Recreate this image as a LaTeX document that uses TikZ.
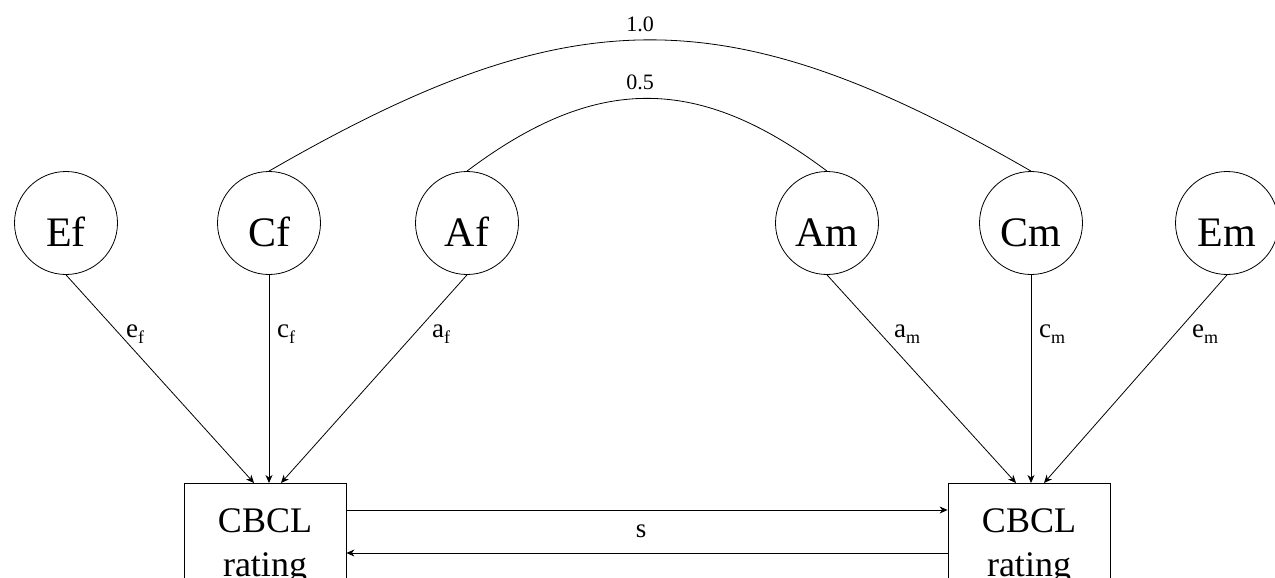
\documentclass[tikz,border=0pt]{standalone}
\usepackage{fontspec}
\setmainfont{Liberation Serif}
\usetikzlibrary{arrows.meta,calc}
\newcommand{\lsub}[1]{\raisebox{-6pt}{\fontsize{18}{18}\selectfont #1}}
\begin{document}
\begin{tikzpicture}[x=1pt,y=-1pt,
  lat/.style={circle, draw, line width=0.8pt, minimum size=103pt, inner sep=0pt,
    font=\fontsize{42}{42}\selectfont, text height=47pt, text depth=0pt},
  obs/.style={draw, line width=0.8pt, minimum width=162pt, minimum height=150pt,
    anchor=north, inner sep=0pt},
  pth/.style={line width=0.8pt, -{Stealth[length=8pt,width=7pt,inset=2.5pt]}},
  cov/.style={line width=0.8pt},
  lab/.style={inner sep=0pt, anchor=base west, font=\fontsize{27}{27}\selectfont},
  num/.style={inner sep=0pt, anchor=base, font=\fontsize{22}{22}\selectfont},
  boxtxt/.style={inner sep=0pt, anchor=base, font=\fontsize{36}{36}\selectfont}]
\useasboundingbox (0,0) rectangle (1275,578);
\clip (0,0) rectangle (1275,578);

% latent variables
\node[lat] (Ef) at (66,223) {Ef};
\node[lat] (Cf) at (269,223) {Cf};
\node[lat] (Af) at (467,223) {Af};
\node[lat] (Am) at (827,223) {Am};
\node[lat] (Cm) at (1031,223) {Cm};
\node[lat] (Em) at (1227,223) {Em};

% observed variables
\node[obs] (lb) at (265,483) {};
\node[obs] (rb) at (1029,483) {};
\node[boxtxt] (lbt1) at (265,532) {CBCL};
\node[boxtxt] (lbt2) at (265,576) {rating};
\node[boxtxt] (rbt1) at (1029,532) {CBCL};
\node[boxtxt] (rbt2) at (1029,576) {rating};

% correlations
\draw[cov] (Cf.north) .. controls +(303,-175) and +(-303,-175) .. (Cm.north);
\draw[cov] (Af.north) .. controls +(129,-97) and +(-129,-97) .. (Am.north);
\node[num] (n10) at (640,32) {1.0};
\node[num] (n05) at (640,90) {0.5};

% paths
\draw[pth] (Ef.south) -- ($(lb.north)+(-11,0)$);
\draw[pth] (Cf.south) -- (Cf.south |- lb.north);
\draw[pth] (Af.south) -- ($(lb.north)+(16,0)$);
\draw[pth] (Am.south) -- ($(rb.north)+(-13,0)$);
\draw[pth] (Cm.south) -- (Cm.south |- rb.north);
\draw[pth] (Em.south) -- ($(rb.north)+(15,0)$);

\node[lab] (le) at (126,337) {e\lsub{f}};
\node[lab] (lc) at (277,337) {c\lsub{f}};
\node[lab] (la) at (432,337) {a\lsub{f}};
\node[lab] (ra) at (894,337) {a\lsub{m}};
\node[lab] (rc) at (1039,337) {c\lsub{m}};
\node[lab] (re) at (1192,337) {e\lsub{m}};

% sibling interaction
\draw[pth] ($(lb.north east)+(0,27)$) -- ($(rb.north west)+(0,27)$);
\draw[pth] ($(rb.north west)+(0,70)$) -- ($(lb.north east)+(0,70)$);
\node[lab, anchor=base] (s) at (641,537) {s};
\end{tikzpicture}
\end{document}
